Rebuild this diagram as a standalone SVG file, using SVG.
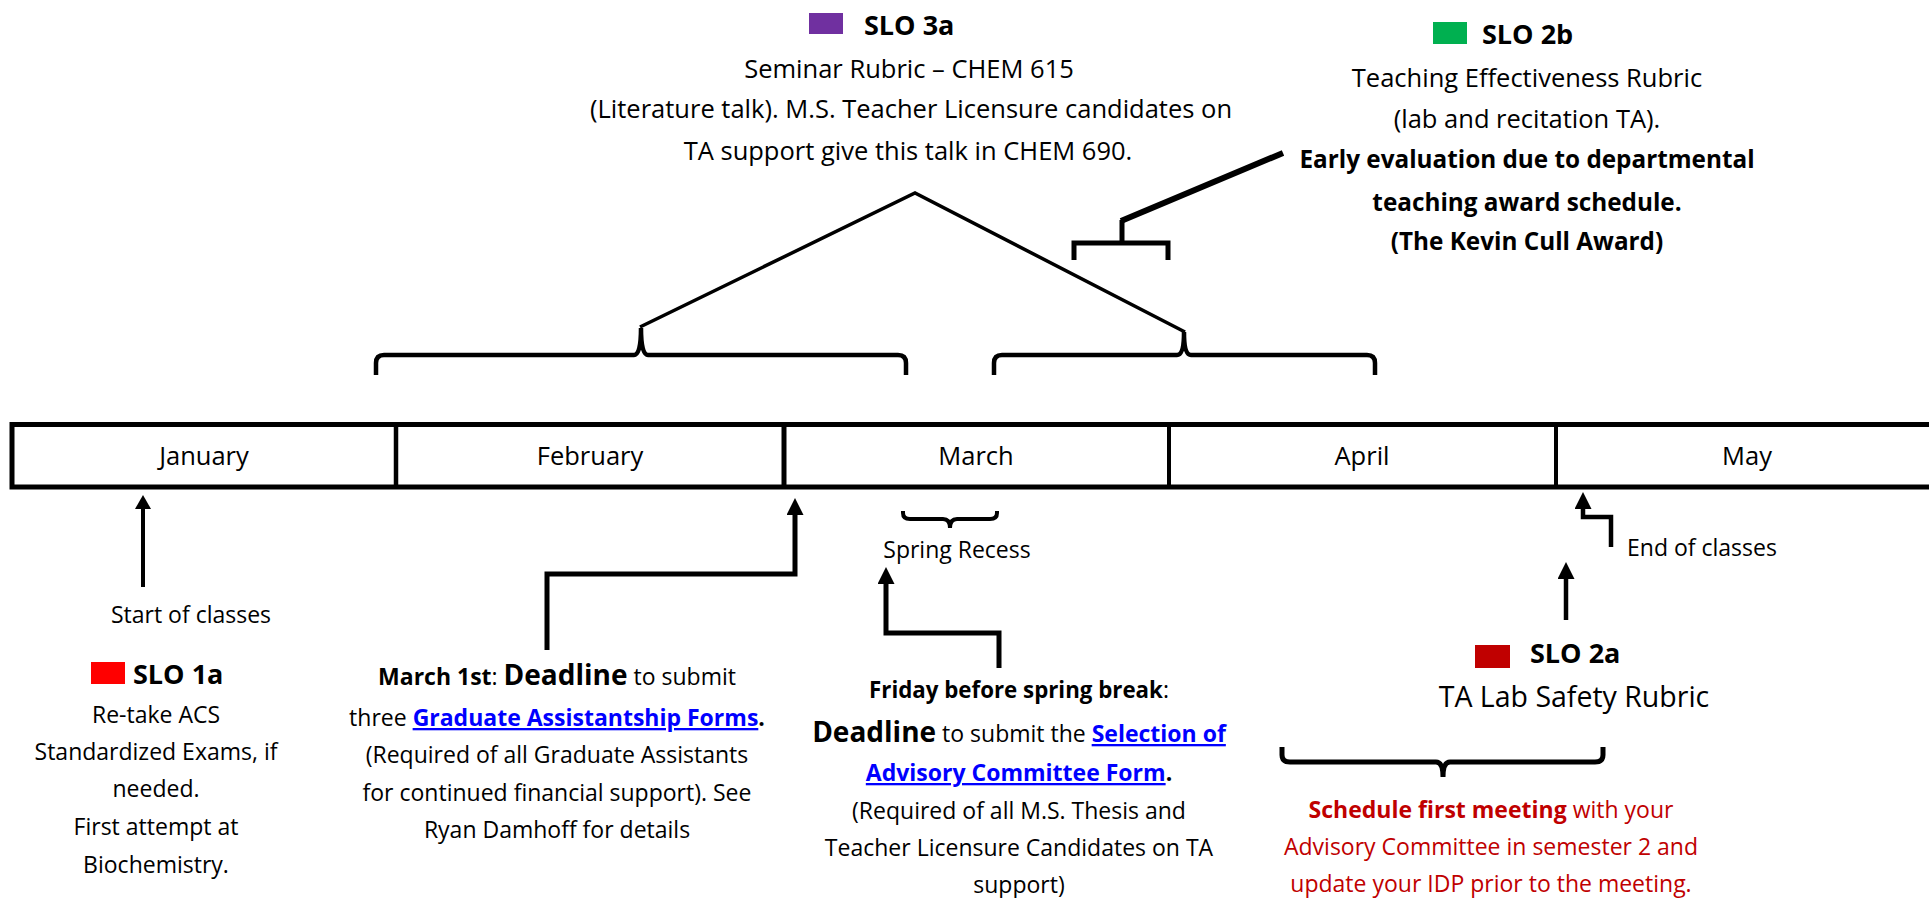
<svg xmlns="http://www.w3.org/2000/svg" width="1929" height="898" viewBox="0 0 1929 898">
<style>
text{font-family:"Open Sans","Liberation Sans",sans-serif;fill:#000}
.s23{font-size:23px}
.s25{font-size:25.5px}
.s25b{font-size:24.3px;font-weight:700}
.slo{font-size:27px;font-weight:700}
.b{font-weight:700}
.big{font-size:28px;font-weight:700}
.link{fill:#0000FF;font-weight:700;text-decoration:underline}
.red{fill:#C00000}
.mid{text-anchor:middle}
.ln{fill:none;stroke:#000;stroke-linejoin:miter}
</style>
<defs>
<marker id="ah" viewBox="0 0 17 17" refX="0" refY="8.5" markerWidth="17" markerHeight="17" markerUnits="userSpaceOnUse" orient="auto"><path d="M0,0 L17,8.5 L0,17 z" fill="#000"/></marker>
<marker id="ahs" viewBox="0 0 14 16" refX="0" refY="8" markerWidth="14" markerHeight="16" markerUnits="userSpaceOnUse" orient="auto"><path d="M0,0 L14,8 L0,16 z" fill="#000"/></marker>
</defs>
<rect width="1929" height="898" fill="#fff"/>

<g id="timeline">
<rect x="12" y="424.5" width="1930" height="62.5" fill="#fff" stroke="#000" stroke-width="5"/>
<line x1="396" y1="424" x2="396" y2="488" stroke="#000" stroke-width="4.5"/>
<line x1="784" y1="424" x2="784" y2="488" stroke="#000" stroke-width="5"/>
<line x1="1169" y1="424" x2="1169" y2="488" stroke="#000" stroke-width="4"/>
<line x1="1556" y1="424" x2="1556" y2="488" stroke="#000" stroke-width="4"/>
<text class="s25 mid" x="204" y="465">January</text>
<text class="s25 mid" x="590" y="465">February</text>
<text class="s25 mid" x="976" y="465">March</text>
<text class="s25 mid" x="1362" y="465">April</text>
<text class="s25 mid" x="1747" y="465">May</text>
</g>

<g id="connectors">
<path class="ln" stroke-width="3.5" d="M640,327 L915,193 L1185,332"/>
<path class="ln" stroke-width="4.5" d="M376,375 L376,363 Q376,355 384,355 L634,355 Q641,355 641,328 Q641,355 648,355 L898,355 Q906,355 906,363 L906,375"/>
<path class="ln" stroke-width="4.5" d="M994,375 L994,363 Q994,355 1002,355 L1177,355 Q1184,355 1184,332 Q1184,355 1191,355 L1367,355 Q1375,355 1375,363 L1375,375"/>
<path class="ln" stroke-width="5" d="M1074,260 L1074,243 L1168,243 L1168,260 M1122,243 L1122,220"/>
<path class="ln" stroke-width="6" d="M1121,221 L1283,153"/>
<path class="ln" stroke-width="4" d="M143,587 L143,509" marker-end="url(#ahs)"/>
<path class="ln" stroke-width="5" d="M547,650 L547,574 L795,574 L795,515" marker-end="url(#ah)"/>
<path class="ln" stroke-width="4" d="M903,511 L903,513 Q903,519 910,519 L943,519 Q950,519 950,528 Q950,519 957,519 L990,519 Q997,519 997,513 L997,511"/>
<path class="ln" stroke-width="5" d="M999,668 L999,633 L886,633 L886,584" marker-end="url(#ah)"/>
<path class="ln" stroke-width="4.5" d="M1611,547 L1611,517 L1583,517 L1583,509" marker-end="url(#ah)"/>
<path class="ln" stroke-width="4.5" d="M1566,620 L1566,579" marker-end="url(#ah)"/>
<path class="ln" stroke-width="5" d="M1282,747 L1282,755 Q1282,762 1290,762 L1436,762 Q1443,762 1443,777 Q1443,762 1450,762 L1595,762 Q1603,762 1603,755 L1603,747"/>
</g>

<g id="slo3a">
<rect x="809" y="13" width="34" height="21" fill="#7030A0"/>
<text class="slo" x="864" y="35">SLO 3a</text>
<text class="s25 mid" x="909" y="78">Seminar Rubric – CHEM 615</text>
<text class="s25 mid" x="911" y="118">(Literature talk). M.S. Teacher Licensure candidates on</text>
<text class="s25 mid" x="908" y="160">TA support give this talk in CHEM 690.</text>
</g>

<g id="slo2b">
<rect x="1433" y="22" width="34" height="22" fill="#00B050"/>
<text class="slo" x="1482" y="44">SLO 2b</text>
<text class="s25 mid" x="1527" y="87">Teaching Effectiveness Rubric</text>
<text class="s25 mid" x="1527" y="128">(lab and recitation TA).</text>
<text class="s25b mid" x="1527" y="168">Early evaluation due to departmental</text>
<text class="s25b mid" x="1527" y="211">teaching award schedule.</text>
<text class="s25b mid" x="1527" y="250">(The Kevin Cull Award)</text>
</g>

<g id="start-classes">
<text class="s23 mid" x="191" y="623">Start of classes</text>
</g>

<g id="slo1a">
<rect x="91" y="662" width="34" height="22" fill="#FF0000"/>
<text class="slo" x="133" y="684">SLO 1a</text>
<text class="s23 mid" x="156" y="723">Re-take ACS</text>
<text class="s23 mid" x="156" y="760">Standardized Exams, if</text>
<text class="s23 mid" x="156" y="797">needed.</text>
<text class="s23 mid" x="156" y="835">First attempt at</text>
<text class="s23 mid" x="156" y="873">Biochemistry.</text>
</g>

<g id="march1">
<text class="s23 mid" x="557" y="685"><tspan class="b">March 1st</tspan>: <tspan class="big">Deadline</tspan> to submit</text>
<text class="s23 mid" x="557" y="726">three <tspan class="link">Graduate Assistantship Forms</tspan><tspan class="b">.</tspan></text>
<text class="s23 mid" x="557" y="763">(Required of all Graduate Assistants</text>
<text class="s23 mid" x="557" y="801">for continued financial support). See</text>
<text class="s23 mid" x="557" y="838">Ryan Damhoff for details</text>
</g>

<g id="spring-recess">
<text class="s23 mid" x="957" y="558">Spring Recess</text>
</g>

<g id="friday">
<text class="s23 mid" x="1019" y="698"><tspan class="b" style="font-size:22.3px">Friday before spring break</tspan>:</text>
<text class="s23 mid" x="1019" y="742"><tspan class="big">Deadline</tspan> to submit the <tspan class="link">Selection of</tspan></text>
<text class="s23 mid" x="1019" y="781"><tspan class="link">Advisory Committee Form</tspan><tspan class="b">.</tspan></text>
<text class="s23 mid" x="1019" y="819">(Required of all M.S. Thesis and</text>
<text class="s23 mid" x="1019" y="856">Teacher Licensure Candidates on TA</text>
<text class="s23 mid" x="1019" y="893">support)</text>
</g>

<g id="end-classes">
<text class="s23" x="1627" y="556">End of classes</text>
</g>

<g id="slo2a">
<rect x="1475" y="645" width="35" height="23" fill="#C00000"/>
<text class="slo" x="1530" y="663">SLO 2a</text>
<text class="mid" style="font-size:28.5px" x="1574" y="707">TA Lab Safety Rubric</text>
</g>

<g id="schedule">
<text class="s23 mid red" x="1491" y="818"><tspan class="b">Schedule first meeting</tspan> with your</text>
<text class="s23 mid red" x="1491" y="855">Advisory Committee in semester 2 and</text>
<text class="s23 mid red" x="1491" y="892">update your IDP prior to the meeting.</text>
</g>
</svg>
